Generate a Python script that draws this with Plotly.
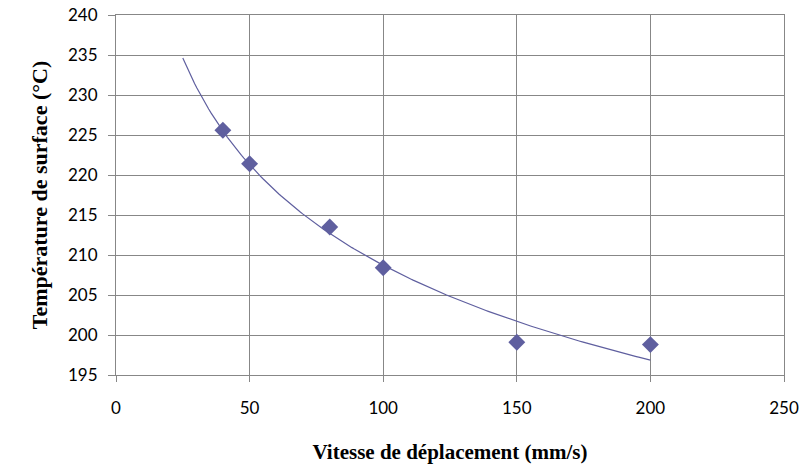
import numpy as np
import plotly.graph_objects as go

vitesse = [40, 50, 80, 100, 150, 200]
temperature = [225.6, 221.4, 213.5, 208.4, 199.1, 198.8]
x_ticks = [0, 50, 100, 150, 200, 250]
y_ticks = [195, 200, 205, 210, 215, 220, 225, 230, 235, 240]
trend_range = [25, 200]

# Power trendline (Excel-style): ln(y) = ln(a) + b ln(x)
b, ln_a = np.polyfit(np.log(vitesse), np.log(temperature), 1)
xt = np.linspace(trend_range[0], trend_range[1], 200)
yt = np.exp(ln_a) * xt ** b

color = "#5F5F9F"
grid = "#878787"

fig = go.Figure()
fig.add_trace(go.Scatter(x=xt, y=yt, mode="lines",
                         line=dict(color=color, width=1.2), hoverinfo="skip"))
fig.add_trace(go.Scatter(x=vitesse, y=temperature, mode="markers",
                         marker=dict(symbol="diamond", size=13, color=color)))

fig.update_layout(
    width=806, height=468,
    margin=dict(l=116, r=22, t=15, b=93),
    plot_bgcolor="white", paper_bgcolor="white",
    showlegend=False,
    font=dict(family="Lato, Carlito, sans-serif", size=17, color="#000000"),
)
fig.update_xaxes(
    range=[0, 250], tickvals=x_ticks, ticktext=[str(v) for v in x_ticks],
    showgrid=True, gridcolor=grid, gridwidth=1,
    showline=True, linecolor=grid, linewidth=1, mirror=True,
    ticks="outside", ticklen=6, tickcolor=grid, ticklabelstandoff=12,
    ticklabeloverflow="allow",
    zeroline=False, automargin=False,
    title=dict(text="<b>Vitesse de déplacement (mm/s)</b>",
               font=dict(family="Liberation Serif, Times New Roman, serif", size=21),
               standoff=26),
)
fig.update_yaxes(
    range=[195, 240], tickvals=y_ticks, ticktext=[str(v) for v in y_ticks],
    showgrid=True, gridcolor=grid, gridwidth=1,
    showline=True, linecolor=grid, linewidth=1, mirror=True,
    ticks="outside", ticklen=7, tickcolor=grid, ticklabelstandoff=7,
    ticklabeloverflow="allow",
    zeroline=False, automargin=False,
    title=dict(text="<b>Température de surface (°C)</b>",
               font=dict(family="Liberation Serif, Times New Roman, serif", size=22),
               standoff=14),
)

# remove the browser's default 8px body margin so the figure fills the window
fig.write_html("out.html", config={"displayModeBar": False},
               post_script="document.body.style.margin='0';")
